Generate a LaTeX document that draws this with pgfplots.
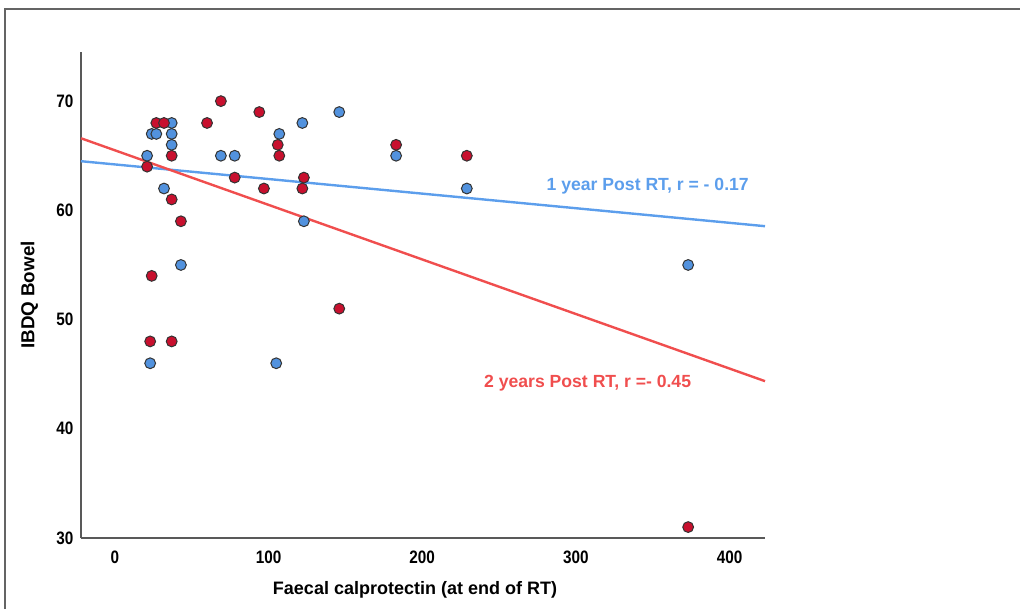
\documentclass[border=0pt]{standalone}
\usepackage{pgfplots}
\pgfplotsset{compat=1.18}
\usepackage{fontspec}
\setmainfont{Liberation Sans}

\definecolor{dotblue}{RGB}{82,146,222}
\definecolor{dotred}{RGB}{200,16,46}
\definecolor{lineblue}{RGB}{92,158,236}
\definecolor{linered}{RGB}{240,78,78}
\definecolor{frame}{RGB}{100,100,100}

\begin{document}
\begin{tikzpicture}
\useasboundingbox (0pt,0pt) rectangle (510pt,304.5pt);
\draw[frame, line width=0.8pt] (2.5pt,0pt) -- (2.5pt,300pt) -- (510pt,300pt);

\begin{axis}[
    at={(40.5pt,35.5pt)}, anchor=south west,
    scale only axis,
    width=342pt, height=243pt,
    xmin=-22, xmax=423,
    ymin=30, ymax=74.5,
    axis x line*=bottom, axis y line*=left,
    axis line style={black!65, line width=0.6pt},
    xtick={0,100,200,300,400},
    ytick={30,40,50,60,70},
    major tick length=0pt,
    /pgf/number format/assume math mode=true,
    tick label style={font=\bfseries\fontsize{9}{10}\selectfont, xscale=0.85, text=black},
    xticklabel style={yshift=-3pt},
    yticklabel style={xshift=-1pt},
    clip=false,
]
% fit lines
\addplot[lineblue, line width=1.2pt] coordinates {(-22,64.5) (423,58.55)};
\addplot[linered, line width=1.2pt] coordinates {(-22,66.6) (423,44.36)};

% 1 year post RT
\addplot[only marks, mark=*, mark size=2.7pt,
    mark options={fill=dotblue, draw=black!80, line width=0.5pt}]
coordinates {
    (24,67) (27,67) (37,68) (37,67) (37,66) (21,65) (69,65) (78,65)
    (32,62) (43,55) (23,46) (105,46) (107,67) (122,68) (146,69)
    (123,59) (183,65) (229,62) (373,55)
};

% 2 years post RT
\addplot[only marks, mark=*, mark size=2.7pt,
    mark options={fill=dotred, draw=black!80, line width=0.5pt}]
coordinates {
    (69,70) (94,69) (27,68) (32,68) (60,68) (37,65) (21,64) (78,63)
    (97,62) (37,61) (43,59) (24,54) (23,48) (37,48) (106,66) (107,65)
    (123,63) (122,62) (183,66) (229,65) (146,51) (373,31)
};

\node[text=lineblue, font=\bfseries\fontsize{8.8}{10}\selectfont] at (axis cs:346.7,62.2) {1 year Post RT, r = - 0.17};
\node[text=linered, font=\bfseries\fontsize{8.8}{10}\selectfont] at (axis cs:307.6,44.2) {2 years Post RT, r =- 0.45};
\end{axis}

\node[font=\bfseries\fontsize{9}{11}\selectfont] at (207.5pt,9.5pt) {Faecal calprotectin (at end of RT)};
\node[rotate=90, font=\bfseries\fontsize{9.4}{11}\selectfont] at (14.75pt,157pt) {IBDQ Bowel};
\end{tikzpicture}
\end{document}
